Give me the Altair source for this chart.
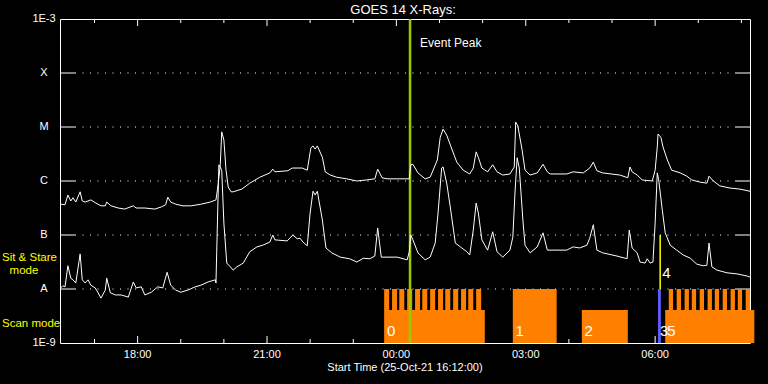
import altair as alt
import numpy as np
import pandas as pd

FONT = "Liberation Sans"

# ---------------- data (minutes after 25-Oct-21 16:12, log10 flux W/m^2) ----------------
long_t = [1, 7, 11, 15, 18, 22, 28, 31, 35, 43, 50, 57, 63, 65, 71, 81, 90, 102, 106, 118,
          132, 141, 147, 150, 154, 161, 171, 182, 196, 209, 217, 220, 223, 225, 228, 231, 234,
          238, 241, 253, 264, 278, 292, 296, 299, 317, 323, 337, 344, 349, 352, 355, 358, 365,
          369, 376, 385, 399, 413, 427, 438, 442, 448, 455, 486, 488, 491, 498, 508, 515, 525,
          529, 533, 538, 543, 552, 561, 570, 575, 579, 582, 587, 595, 602, 608, 616, 626, 632,
          634, 637, 643, 647, 654, 664, 672, 678, 682, 705, 714, 728, 737, 742, 747, 755, 779,
          790, 793, 796, 803, 810, 824, 828, 831, 832, 836, 839, 845, 851, 863, 872, 879, 890,
          900, 903, 909, 918, 932, 946, 960]
long_log = [-6.43, -6.44, -6.26, -6.37, -6.31, -6.39, -6.20, -6.37, -6.39, -6.35, -6.41, -6.46,
            -6.46, -6.39, -6.46, -6.50, -6.52, -6.46, -6.50, -6.50, -6.52, -6.48, -6.44, -6.30,
            -6.39, -6.43, -6.46, -6.46, -6.43, -6.39, -6.35, -6.07, -5.70, -5.09, -5.24, -5.80,
            -6.11, -6.20, -6.20, -6.15, -6.04, -5.93, -5.85, -5.78, -5.83, -5.81, -5.76, -5.76,
            -5.80, -5.39, -5.35, -5.41, -5.35, -5.56, -5.83, -5.89, -5.93, -5.96, -6.00, -5.98,
            -5.96, -5.78, -5.94, -5.96, -5.96, -5.70, -5.69, -5.85, -5.96, -5.93, -5.61, -5.19,
            -5.04, -5.15, -5.33, -5.65, -5.80, -5.87, -5.76, -5.46, -5.56, -5.76, -5.83, -5.70,
            -5.83, -5.89, -5.87, -5.74, -4.91, -4.98, -5.43, -5.80, -5.89, -5.85, -5.69, -5.83,
            -5.87, -5.87, -5.83, -5.85, -5.76, -5.65, -5.81, -5.85, -5.89, -5.94, -5.74, -5.83,
            -5.89, -5.98, -6.00, -5.80, -5.37, -5.13, -5.19, -5.37, -5.61, -5.80, -5.85, -5.91,
            -5.98, -6.02, -6.04, -5.91, -6.00, -6.09, -6.13, -6.15, -6.19]

short_t = [1, 4, 7, 11, 15, 18, 22, 28, 31, 35, 39, 43, 49, 53, 57, 63, 65, 70, 77, 85, 95, 102,
           106, 113, 118, 127, 136, 143, 149, 154, 161, 168, 178, 188, 196, 206, 216, 217, 218,
           221, 225, 228, 232, 237, 241, 246, 255, 264, 274, 282, 292, 296, 299, 316, 324, 330,
           334, 338, 344, 348, 352, 355, 358, 365, 370, 378, 390, 403, 413, 422, 431, 438, 442,
           447, 469, 483, 486, 488, 491, 498, 508, 515, 522, 526, 531, 533, 538, 543, 550, 557,
           566, 570, 575, 579, 582, 587, 595, 602, 608, 616, 626, 630, 633, 636, 639, 644, 647,
           654, 664, 672, 678, 705, 714, 723, 733, 737, 742, 747, 755, 775, 789, 792, 796, 803,
           807, 814, 817, 821, 825, 828, 831, 833, 838, 842, 849, 858, 867, 877, 886, 895, 900,
           903, 907, 914, 928, 942, 956, 960]
short_log = [-7.98, -7.94, -7.96, -7.57, -7.80, -7.83, -7.89, -7.35, -7.83, -7.89, -7.83, -7.93,
             -7.98, -8.07, -8.17, -8.02, -7.80, -8.07, -8.11, -8.11, -8.15, -7.87, -7.98, -7.96,
             -8.11, -8.06, -7.96, -7.98, -7.69, -7.93, -8.02, -8.06, -8.02, -7.96, -7.93, -7.87,
             -7.83, -7.89, -7.33, -5.70, -5.80, -6.78, -7.52, -7.59, -7.65, -7.59, -7.52, -7.31,
             -7.22, -7.19, -7.13, -7.00, -7.09, -7.11, -7.00, -7.07, -7.06, -7.13, -7.20, -6.59,
             -6.19, -6.26, -6.19, -6.72, -7.24, -7.33, -7.41, -7.44, -7.50, -7.43, -7.44, -7.39,
             -6.87, -7.41, -7.41, -7.46, -7.31, -7.00, -7.09, -7.33, -7.46, -7.41, -7.15, -6.59,
             -5.76, -5.74, -6.04, -6.48, -7.15, -7.22, -7.31, -7.37, -6.91, -6.41, -6.59, -7.09,
             -7.28, -6.94, -7.31, -7.41, -7.28, -7.04, -6.22, -5.57, -5.76, -6.72, -7.19, -7.33,
             -7.22, -6.96, -7.28, -7.28, -7.22, -7.24, -7.19, -7.06, -6.81, -7.28, -7.33, -7.39,
             -7.44, -6.91, -7.24, -7.33, -7.50, -7.52, -7.44, -7.52, -7.50, -6.78, -5.85, -5.98,
             -6.54, -6.96, -7.19, -7.28, -7.37, -7.43, -7.54, -7.57, -7.56, -7.15, -7.59, -7.65,
             -7.70, -7.72, -7.76, -7.78]

# axis
decade_flux = [1e-9, 1e-8, 1e-7, 1e-6, 1e-5, 1e-4, 1e-3]
decade_label = ["1E-9", "A", "B", "C", "M", "X", "1E-3"]
inner_decades = [1e-8, 1e-7, 1e-6, 1e-5, 1e-4]
major_ticks = [108, 288, 468, 648, 828]
major_label = ["18:00", "21:00", "00:00", "03:00", "06:00"]
minor_ticks = [48, 168, 228, 348, 408, 528, 588, 708, 768, 888, 948]

# scan-mode blocks: start, end (minutes), top log10 flux
block_start = [451, 630, 726, 842]
block_end = [591, 691, 790, 966]
block_top = [-8.39, -8.0, -8.39, -8.39]
teeth0_start = [451, 462, 472, 483, 494, 504, 515, 526, 536, 547, 558, 568, 579]
teeth5_start = [847, 858, 869, 879, 890, 901, 911, 922, 933, 943, 954]
blue_start, blue_end = 832, 836
event_peak_t = 487
yellow_t = 835

label_text = ["0", "1", "2", "3", "5", "4"]
label_t = [452, 631, 727, 832, 842, 835]
label_log = [-8.78, -8.78, -8.78, -8.78, -8.78, -7.70]

# ---------------- build ----------------
W, H = 690, 324
X = alt.Scale(domain=[0, 960], nice=False, zero=False)
Y = alt.Scale(type="log", domain=[1e-9, 1e-3], nice=False)

curves = pd.concat([
    pd.DataFrame({"t": long_t, "flux": 10 ** np.array(long_log), "ch": "long"}),
    pd.DataFrame({"t": short_t, "flux": 10 ** np.array(short_log), "ch": "short"}),
], ignore_index=True)

lines = alt.Chart(curves).mark_line(color="white", strokeWidth=1).encode(
    x=alt.X("t:Q", scale=X, axis=None),
    y=alt.Y("flux:Q", scale=Y, axis=None),
    detail="ch:N",
)

# tick labels drawn as text
xlab = alt.Chart(pd.DataFrame({"t": major_ticks, "txt": major_label})).mark_text(
    align="center", baseline="middle", color="white", font=FONT, fontSize=11).encode(
    x=alt.X("t:Q", scale=X, axis=None), y=alt.value(H + 12), text="txt:N")
ylab = alt.Chart(pd.DataFrame({"flux": decade_flux, "txt": decade_label})).mark_text(
    align="center", baseline="middle", color="white", font=FONT, fontSize=11).encode(
    y=alt.Y("flux:Q", scale=Y, axis=None), x=alt.value(-16), text="txt:N")

dec_df = pd.DataFrame({"flux": inner_decades})
grid = alt.Chart(dec_df).mark_rule(color="white", strokeDash=[1, 6.5], strokeWidth=1).encode(
    y=alt.Y("flux:Q", scale=Y, axis=None), x=alt.value(15), x2=alt.value(675))
lticks = alt.Chart(dec_df).mark_rule(color="white", strokeWidth=1).encode(
    y=alt.Y("flux:Q", scale=Y, axis=None), x=alt.value(0), x2=alt.value(15))
rticks = alt.Chart(dec_df).mark_rule(color="white", strokeWidth=1).encode(
    y=alt.Y("flux:Q", scale=Y, axis=None), x=alt.value(675), x2=alt.value(690))

maj_df = pd.DataFrame({"t": major_ticks})
min_df = pd.DataFrame({"t": minor_ticks})
def hticks(df, y0, y1):
    return alt.Chart(df).mark_rule(color="white", strokeWidth=1).encode(
        x=alt.X("t:Q", scale=X, axis=None), y=alt.value(y0), y2=alt.value(y1))
tick_layers = [hticks(maj_df, 0, 7), hticks(maj_df, H, H - 7), hticks(min_df, 0, 4), hticks(min_df, H, H - 4)]

ORANGE = "#ff8000"
blocks = pd.DataFrame({"s": block_start, "e": block_end, "lo": 1e-9, "hi": 10 ** np.array(block_top)})
teeth = pd.concat([
    pd.DataFrame({"s": teeth0_start, "e": [v + 7 for v in teeth0_start]}),
    pd.DataFrame({"s": teeth5_start, "e": [v + 6 for v in teeth5_start]}),
], ignore_index=True)
teeth["lo"] = 10 ** -8.39
teeth["hi"] = 1e-8

def rects(df, color):
    return alt.Chart(df).mark_rect(color=color).encode(
        x=alt.X("s:Q", scale=X, axis=None), x2="e:Q",
        y=alt.Y("lo:Q", scale=Y, axis=None), y2="hi:Q")

blue = rects(pd.DataFrame({"s": [blue_start], "e": [blue_end], "lo": [1e-9], "hi": [1e-8]}), "#5c5cff")

green = alt.Chart(pd.DataFrame({"t": [event_peak_t]})).mark_rule(color="#99cc00", strokeWidth=2.5).encode(
    x=alt.X("t:Q", scale=X, axis=None))
yellow = alt.Chart(pd.DataFrame({"t": [yellow_t], "lo": [1e-8], "hi": [1e-7]})).mark_rule(
    color="#ffff00", strokeWidth=1.5).encode(
    x=alt.X("t:Q", scale=X, axis=None), y=alt.Y("lo:Q", scale=Y, axis=None), y2="hi:Q")

labels = alt.Chart(pd.DataFrame({"txt": label_text, "t": label_t, "flux": 10 ** np.array(label_log)})).mark_text(
    align="left", baseline="middle", dx=2, color="white", font=FONT, fontSize=15).encode(
    x=alt.X("t:Q", scale=X, axis=None), y=alt.Y("flux:Q", scale=Y, axis=None), text="txt:N")

event_txt = alt.Chart(pd.DataFrame({"t": [501], "flux": [10 ** -3.44], "txt": ["Event Peak"]})).mark_text(
    align="left", baseline="middle", color="white", font=FONT, fontSize=12).encode(
    x=alt.X("t:Q", scale=X, axis=None), y=alt.Y("flux:Q", scale=Y, axis=None), text="txt:N")

one = pd.DataFrame({"a": [0]})
def note(txt, x, y, color="white", size=11, align="center"):
    return alt.Chart(one).mark_text(align=align, baseline="middle", color=color, font=FONT,
                                    fontSize=size).encode(x=alt.value(x), y=alt.value(y), text=alt.value(txt))

notes = [
    note("GOES 14 X-Rays:", 343, -9, size=13),
    note("Start Time (25-Oct-21 16:12:00)", 345, 349, size=11),
    note("Sit & Stare", -58, 239, color="#ffff00", size=11.5, align="left"),
    note("mode", -36, 252, color="#ffff00", size=11.5),
    note("Scan mode", -58, 305, color="#ffff00", size=11.5, align="left"),
]

chart = alt.layer(
    grid, lticks, rticks, *tick_layers,
    rects(blocks, ORANGE), rects(teeth, ORANGE), blue,
    green, yellow, lines, labels, event_txt, xlab, ylab, *notes,
).properties(
    width=W, height=H,
    autosize=alt.AutoSizeParams(type="none"),
    padding={"left": 60, "top": 19, "right": 18, "bottom": 41},
    background="black",
).configure_view(stroke="white", strokeWidth=1)

chart.save("out.html", embed_options={"renderer": "svg", "actions": False})
